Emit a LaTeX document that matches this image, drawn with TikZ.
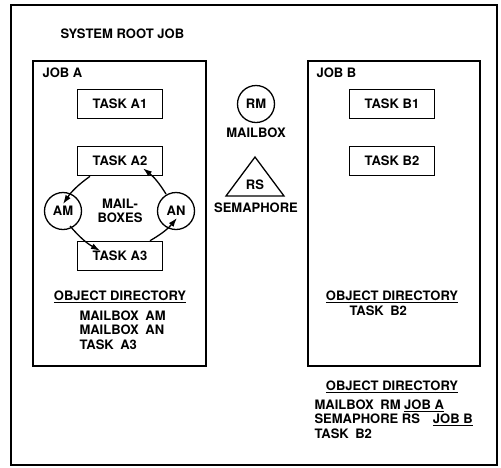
\documentclass[tikz,border=0pt]{standalone}
\usepackage{fontspec}
\setmainfont{TeX Gyre Heros}
\usetikzlibrary{arrows.meta}

\begin{document}
\begin{tikzpicture}[
    x=1pt, y=-1pt,
    every node/.style={font=\fontsize{13}{14.5}\selectfont\bfseries},
    frame/.style={draw, line width=1.8pt},
    task/.style={draw, line width=1.6pt, minimum width=85pt, minimum height=29pt, inner sep=0pt},
    mbox/.style={draw, circle, line width=1.3pt, minimum size=37pt, inner sep=0pt},
    flow/.style={line width=1.3pt, -{Latex[length=9pt, width=6pt]}},
  ]
    % Page: 501 x 467, y grows downwards
    \useasboundingbox (0,0) rectangle (501,467);

    % Root job frame
    \draw[frame] (11,5) rectangle (497,465);
    \node (root) [anchor=west] at (57,34) {SYSTEM ROOT JOB};

    % --- Job A
    \draw[frame] (33,61) rectangle (206,366);
    \node (jobA) [anchor=west] at (39,73) {JOB A};
    \node (a1) [task] at (120,104) {TASK A1};
    \node (a2) [task] at (120,161) {TASK A2};
    \node (a3) [task] at (120,256) {TASK A3};
    \node (am) [mbox] at (63,211) {AM};
    \node (an) [mbox] at (176,211) {AN};
    \node (mb) [align=center] at (120,211) {MAIL-\\BOXES};

    % Message flow round the mailboxes
    \draw[flow] ([xshift=-30pt]a2.south) to[bend right=10] ([yshift=7pt]am.center);
    \draw[flow] ([shift={(7pt,-15pt)}]am.center) to[bend right=10] ([shift={(-20pt,-10pt)}]a3.north);
    \draw[flow] ([xshift=30pt]a3.north) to[bend right=10] ([shift={(1pt,-7pt)}]an.center);
    \draw[flow] ([shift={(-10pt,17pt)}]an.center) to[bend right=10] ([shift={(23pt,8pt)}]a2.south);

    \node (odA) at (120,297) {\underline{OBJECT DIRECTORY}};
    \node (listA) [anchor=west, align=left] at (76,330)
      {MAILBOX\hspace{.5em}AM\\MAILBOX\hspace{.5em}AN\\TASK\hspace{.5em}A3};

    % --- Objects of the root job
    \node (rm) [mbox] at (256,104) {RM};
    \node (rmLabel) at (256,133) {MAILBOX};
    \draw[line width=1.3pt] (255,157) -- (284,196) -- (226,196) -- cycle;
    \node (rs) at (255,185) {RS};
    \node (rsLabel) at (256,208) {SEMAPHORE};

    % --- Job B
    \draw[frame] (308,61) rectangle (480,366);
    \node (jobB) [anchor=west] at (313,73) {JOB B};
    \node (b1) [task] at (392,104) {TASK B1};
    \node (b2) [task] at (392,161) {TASK B2};
    \node (odB) at (392,297) {\underline{OBJECT DIRECTORY}};
    \node (listB) [anchor=west] at (346,311) {TASK\hspace{.5em}B2};

    % --- Root directory
    \node (odRoot) at (392,387) {\underline{OBJECT DIRECTORY}};
    \node (listRoot) [anchor=west, align=left] at (311,419)
      {MAILBOX\hspace{.5em}RM \underline{JOB A}\\
       SEMAPHORE RS\hspace{1em}\underline{JOB B}\\
       TASK\hspace{.5em}B2};
  \end{tikzpicture}
\end{document}
